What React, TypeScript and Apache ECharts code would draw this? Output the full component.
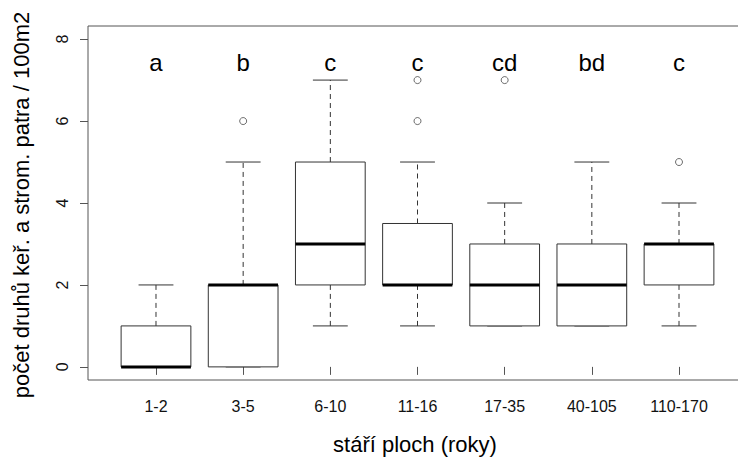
import React, { useEffect, useRef } from "react";
import * as echarts from "echarts";

const categories = ["1-2", "3-5", "6-10", "11-16", "17-35", "40-105", "110-170"];
const lowerWhisker = [0, 0, 1, 1, 1, 1, 1];
const q1 = [0, 0, 2, 2, 1, 1, 2];
const median = [0, 2, 3, 2, 2, 2, 3];
const q3 = [1, 2, 5, 3.5, 3, 3, 3];
const upperWhisker = [2, 5, 7, 5, 4, 5, 4];
const outlierGroup = [2, 4, 4, 5, 7];
const outlierValue = [6, 6, 7, 7, 5];
const letters = ["a", "b", "c", "c", "cd", "bd", "c"];
const letterY = 7.42;
const yTicks = [0, 2, 4, 6, 8];
const xPositions = [1, 2, 3, 4, 5, 6, 7];

const FONT = "'Liberation Sans', Arial, sans-serif";

export default function App() {
  const ref = useRef<HTMLDivElement>(null);
  useEffect(() => {
    if (!ref.current) return;
    const chart = echarts.init(ref.current, null, { renderer: "svg" });
    const boxData = categories.map((_, i) => [
      i + 1,
      lowerWhisker[i],
      q1[i],
      median[i],
      q3[i],
      upperWhisker[i],
    ]);
    const outData = outlierGroup.map((g, i) => [g, outlierValue[i]]);
    const letterData = letters.map((l, i) => [i + 1, letterY, l]);

    const lineCol = "#333";
    const option: any = {
      animation: false,
      backgroundColor: "#fff",
      grid: {
        left: 88,
        top: 26,
        width: 659,
        height: 354,
        show: true,
        borderColor: "#555",
        borderWidth: 1,
        backgroundColor: "transparent",
      },
      xAxis: {
        type: "value",
        min: 0.22,
        max: 7.78,
        axisLine: { show: false },
        splitLine: { show: false },
        axisTick: {
          show: true,
          customValues: xPositions,
          length: 8,
          lineStyle: { color: "#555", width: 1 },
        },
        axisLabel: {
          customValues: xPositions,
          formatter: (v: number) => categories[Math.round(v) - 1] ?? "",
          fontFamily: FONT,
          fontSize: 16,
          color: "#111",
          margin: 18,
        },
      },
      yAxis: {
        type: "value",
        min: -0.32,
        max: 8.32,
        axisLine: { show: false },
        splitLine: { show: false },
        axisTick: {
          show: true,
          customValues: yTicks,
          length: 8,
          lineStyle: { color: "#555", width: 1 },
        },
        axisLabel: {
          customValues: yTicks,
          rotate: 90,
          fontFamily: FONT,
          fontSize: 16,
          color: "#111",
          margin: 18,
        },
      },
      graphic: [
        {
          type: "text",
          x: 21,
          y: 205,
          rotation: Math.PI / 2,
          style: {
            text: "počet druhů keř. a strom. patra / 100m2",
            font: `22px ${FONT}`,
            fill: "#000",
            align: "center",
            verticalAlign: "middle",
          },
        },
        {
          type: "text",
          x: 415,
          y: 444,
          style: {
            text: "stáří ploch (roky)",
            font: `22px ${FONT}`,
            fill: "#000",
            align: "center",
            verticalAlign: "middle",
          },
        },
      ],
      series: [
        {
          type: "custom",
          data: boxData,
          renderItem: (params: any, api: any) => {
            const x = api.value(0);
            const lo = api.coord([x, api.value(1)]);
            const b1 = api.coord([x, api.value(2)]);
            const md = api.coord([x, api.value(3)]);
            const b3 = api.coord([x, api.value(4)]);
            const hi = api.coord([x, api.value(5)]);
            const bw = api.size([0.8, 0])[0];
            const sw = bw / 2;
            const cx = lo[0];
            const dash = { stroke: lineCol, lineWidth: 1, lineDash: [5, 4] };
            const solid = { stroke: lineCol, lineWidth: 1 };
            return {
              type: "group",
              children: [
                { type: "line", shape: { x1: cx, y1: b3[1], x2: cx, y2: hi[1] }, style: dash },
                { type: "line", shape: { x1: cx, y1: lo[1], x2: cx, y2: b1[1] }, style: dash },
                { type: "line", shape: { x1: cx - sw / 2, y1: hi[1], x2: cx + sw / 2, y2: hi[1] }, style: solid },
                { type: "line", shape: { x1: cx - sw / 2, y1: lo[1], x2: cx + sw / 2, y2: lo[1] }, style: solid },
                {
                  type: "rect",
                  shape: { x: cx - bw / 2, y: b3[1], width: bw, height: b1[1] - b3[1] },
                  style: { fill: "#fff", stroke: lineCol, lineWidth: 1 },
                },
                {
                  type: "line",
                  shape: { x1: cx - bw / 2, y1: md[1], x2: cx + bw / 2, y2: md[1] },
                  style: { stroke: "#000", lineWidth: 3 },
                },
              ],
            };
          },
          z: 2,
        },
        {
          type: "scatter",
          data: outData,
          symbol: "circle",
          symbolSize: 7,
          itemStyle: { color: "#fff", borderColor: "#333", borderWidth: 0.9 },
          z: 3,
        },
        {
          type: "custom",
          data: letterData,
          renderItem: (params: any, api: any) => {
            const p = api.coord([api.value(0), api.value(1)]);
            return {
              type: "text",
              x: p[0],
              y: p[1],
              style: {
                text: letters[params.dataIndex],
                font: `24px ${FONT}`,
                fill: "#000",
                align: "center",
                verticalAlign: "middle",
              },
            };
          },
          z: 4,
        },
      ],
    };
    chart.setOption(option);
    return () => chart.dispose();
  }, []);
  return (
    <div
      style={{
        position: "absolute",
        left: 0,
        top: 0,
        width: 738,
        height: 459,
        overflow: "hidden",
        background: "#fff",
      }}
    >
      <div ref={ref} style={{ width: 770, height: 459 }} />
    </div>
  );
}
